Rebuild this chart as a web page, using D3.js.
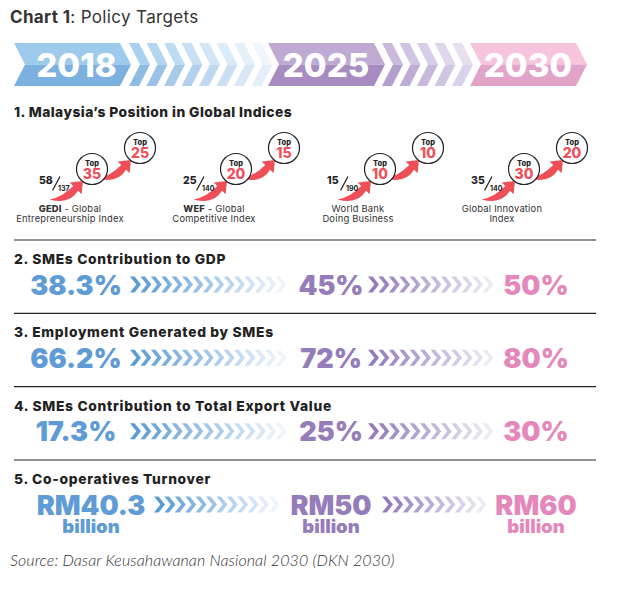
<!DOCTYPE html>
<html><head><meta charset="utf-8">
<script src="https://cdn.jsdelivr.net/npm/d3@7"></script>
<style>
html,body{margin:0;padding:0;background:#fff;}
svg{display:block;font-family:Inter,"Open Sans",sans-serif;}
</style></head><body>
<svg id="chart" width="619" height="612"></svg>
<script>
// ---------- data ----------
const years = ["2018", "2025", "2030"];
const indexBold = ["GEDI", "WEF", "", ""];
const indexLine1 = [" - Global", " - Global", "World Bank", "Global Innovation"];
const indexLine2 = ["Entrepreneurship Index", "Competitive Index", "Doing Business", "Index"];
const rankCurrent = [58, 25, 15, 35];
const rankTotal = [137, 140, 190, 140];
const top2025 = [35, 20, 10, 30];
const top2030 = [25, 15, 10, 20];
const metricTitles = ["2. SMEs Contribution to GDP", "3. Employment Generated by SMEs",
  "4. SMEs Contribution to Total Export Value", "5. Co-operatives Turnover"];
const target2018 = [38.3, 66.2, 17.3, 40.3];
const target2025 = [45, 72, 25, 50];
const target2030 = [50, 80, 30, 60];
const metricUnit = ["%", "%", "%", "RM billion"];

// ---------- layout ----------
const svg = d3.select("#chart");
const yearColor = d3.scaleOrdinal(years, ["#5f9bd4", "#957cba", "#e488bc"]);
const blockTop = d3.scaleOrdinal(years, ["#9ecbec", "#bfaad3", "#f6c4dd"]);
const blockBot = d3.scaleOrdinal(years, ["#7cb1df", "#a68cc1", "#e2a3c9"]);
const colX = d3.scaleOrdinal(years, [76, 331, 536]);
const bannerX0 = d3.scaleOrdinal(years, [14, 268, 470]);
const bannerTextX = d3.scaleOrdinal(years, [76.5, 326, 528]);

function chevTop(x, w, d, y0, ym) { return [[x, y0], [x + w, y0], [x + w + d, ym], [x + d, ym]]; }
function chevBot(x, w, d, ym, y1) { return [[x + d, ym], [x + w + d, ym], [x + w, y1], [x, y1]]; }
const line = d3.line();
const poly = p => line(p) + "Z";

// title
const title = svg.append("text").attr("x", 10).attr("y", 23).attr("font-size", 17).attr("fill", "#333")
  .attr("letter-spacing", 0.35);
title.append("tspan").attr("font-weight", 700).text("Chart 1");
title.append("tspan").attr("font-weight", 400).text(": Policy Targets");

// banner
const by0 = 43, by1 = 86, bym = 64.5, bd = 11;
const bannerG = svg.append("g");
const bannerChev = [
  {start: 129, n: 8, t0: "#a9d0ee", t1: "#eff6fc", b0: "#8ebbe3", b1: "#e4eef9"},
  {start: 382, n: 5, t0: "#c9b9dd", t1: "#e7dff0", b0: "#b39fcc", b1: "#dbd1e8"}
];
bannerChev.forEach(g => {
  const ct = d3.scaleLinear([0, g.n - 1], [g.t0, g.t1]).interpolate(d3.interpolateRgb);
  const cb = d3.scaleLinear([0, g.n - 1], [g.b0, g.b1]).interpolate(d3.interpolateRgb);
  d3.range(g.n).forEach(i => {
    const x = g.start + i * 17.5;
    bannerG.append("path").attr("d", poly(chevTop(x, 10, bd, by0, bym))).attr("fill", ct(i));
    bannerG.append("path").attr("d", poly(chevBot(x, 10, bd, bym, by1))).attr("fill", cb(i));
  });
});
years.forEach(y => {
  const x = bannerX0(y), w = 106;
  bannerG.append("path").attr("d", poly(chevTop(x, w, bd, by0, bym))).attr("fill", blockTop(y));
  bannerG.append("path").attr("d", poly(chevBot(x, w, bd, bym, by1))).attr("fill", blockBot(y));
  bannerG.append("text").attr("x", bannerTextX(y)).attr("y", 77).attr("text-anchor", "middle")
    .attr("font-size", 33).attr("font-weight", 800).attr("fill", "#fff").text(y);
});

// section 1 heading
svg.append("text").attr("x", 14).attr("y", 117).attr("font-size", 13.8).attr("font-weight", 800)
  .attr("letter-spacing", 0.45).attr("fill", "#222").text("1. Malaysia\u2019s Position in Global Indices");

// index groups
const cx = d3.scaleLinear([0, 3], [92, 524]);
const cy = 169, r = 15.5, dx2 = 48, dy2 = -21;
const red = "#ef4f58";
const arrowPath = "M-29,16 Q-12,21 -4.3,8.5 L-1.2,11.6 L0,0 L-11.6,1.2 L-8.5,4.3 Q-18,14 -29,16 Z";
const idxG = svg.append("g");
rankCurrent.forEach((rk, i) => {
  const x1 = cx(i), y1 = cy, x2 = x1 + dx2, y2 = cy + dy2;
  const g = idxG.append("g");
  g.append("path").attr("d", arrowPath).attr("transform", `translate(${x1 - 9},${y1 + 12}) scale(1.15)`).attr("fill", red);
  g.append("path").attr("d", arrowPath).attr("transform", `translate(${x2 - 9},${y2 + 12}) scale(1.15)`).attr("fill", red);
  [[x1, y1, top2025[i]], [x2, y2, top2030[i]]].forEach(([x, y, v]) => {
    g.append("circle").attr("cx", x).attr("cy", y).attr("r", r).attr("fill", "#fff")
      .attr("stroke", "#222").attr("stroke-width", 1.2);
    g.append("text").attr("x", x).attr("y", y - 3.5).attr("text-anchor", "middle")
      .attr("font-size", 7.5).attr("font-weight", 800).attr("fill", "#222").text("Top");
    g.append("text").attr("x", x).attr("y", y + 9.8).attr("text-anchor", "middle")
      .attr("font-size", 14).attr("font-weight", 800).attr("fill", red).text(v);
  });
  g.append("text").attr("x", x1 - 53).attr("y", cy + 15).attr("font-size", 10.5).attr("font-weight", 800)
    .attr("fill", "#222").text(rk);
  g.append("line").attr("x1", x1 - 39.5).attr("y1", cy + 21.5).attr("x2", x1 - 32).attr("y2", cy + 7.5)
    .attr("stroke", "#222").attr("stroke-width", 1.3);
  g.append("text").attr("x", x1 - 34).attr("y", cy + 21.5).attr("font-size", 7).attr("font-weight", 700)
    .attr("fill", "#222").text(rankTotal[i]);
  const lt = g.append("text").attr("x", x1 - 22).attr("y", 212).attr("text-anchor", "middle")
    .attr("font-size", 9.4).attr("letter-spacing", 0.2).attr("fill", "#333");
  if (indexBold[i]) lt.append("tspan").attr("font-weight", 800).text(indexBold[i]);
  lt.append("tspan").text(indexLine1[i]);
  g.append("text").attr("x", x1 - 22).attr("y", 221.5).attr("text-anchor", "middle")
    .attr("font-size", 9.4).attr("letter-spacing", 0.2).attr("fill", "#333").text(indexLine2[i]);
});

// rows 2-5
const rowY = d3.scaleLinear([0, 3], [264, 484]);
const rowChev = [[[130, 15], [368, 12]], [[130, 15], [368, 12]], [[130, 15], [368, 12]], [[154, 12], [382, 10]]];
const chevFade = [["#5b9bd5", "#eef4fb"], ["#937bbd", "#edeaf4"]];
metricTitles.forEach((t, i) => {
  const hy = rowY(i);
  svg.append("line").attr("x1", 14).attr("x2", 596).attr("y1", hy - 24).attr("y2", hy - 24)
    .attr("stroke", "#222").attr("stroke-width", 1.2);
  svg.append("text").attr("x", 14).attr("y", hy).attr("font-size", 13.8).attr("font-weight", 800)
    .attr("letter-spacing", 0.7).attr("fill", "#222").text(t);
  const vy = hy + 30.5;
  const vals = [target2018[i], target2025[i], target2030[i]];
  years.forEach((y, j) => {
    const isRM = metricUnit[i] !== "%";
    const label = isRM ? "RM" + vals[j] : vals[j] + "%";
    const xc = colX(y) + (isRM && j === 0 ? 15 : 0);
    svg.append("text").attr("x", xc).attr("y", vy).attr("text-anchor", "middle")
      .attr("font-size", 27).attr("font-weight", 900).attr("fill", yearColor(y)).text(label);
    if (isRM) {
      svg.append("text").attr("x", xc).attr("y", vy + 18).attr("text-anchor", "middle")
        .attr("font-size", 18.5).attr("font-weight", 900).attr("fill", yearColor(y)).text("billion");
    }
  });
  const my = vy - 10;
  rowChev[i].forEach(([start, n], gi) => {
    const c = d3.scaleLinear([0, n - 1], chevFade[gi]).interpolate(d3.interpolateRgb);
    d3.range(n).forEach(k => {
      const x = start + k * 10.4;
      const pts = [[x, my - 8], [x + 4.6, my - 8], [x + 11, my], [x + 4.6, my + 8], [x, my + 8], [x + 6.4, my]];
      svg.append("path").attr("d", poly(pts)).attr("fill", c(k));
    });
  });
});

// source
svg.append("text").attr("x", 10).attr("y", 566).attr("font-size", 16).attr("font-style", "italic")
  .attr("font-weight", 300).attr("letter-spacing", 0.1).attr("fill", "#333").attr("font-family", "Lato, sans-serif")
  .text("Source: Dasar Keusahawanan Nasional 2030 (DKN 2030)");
</script>
</body></html>
